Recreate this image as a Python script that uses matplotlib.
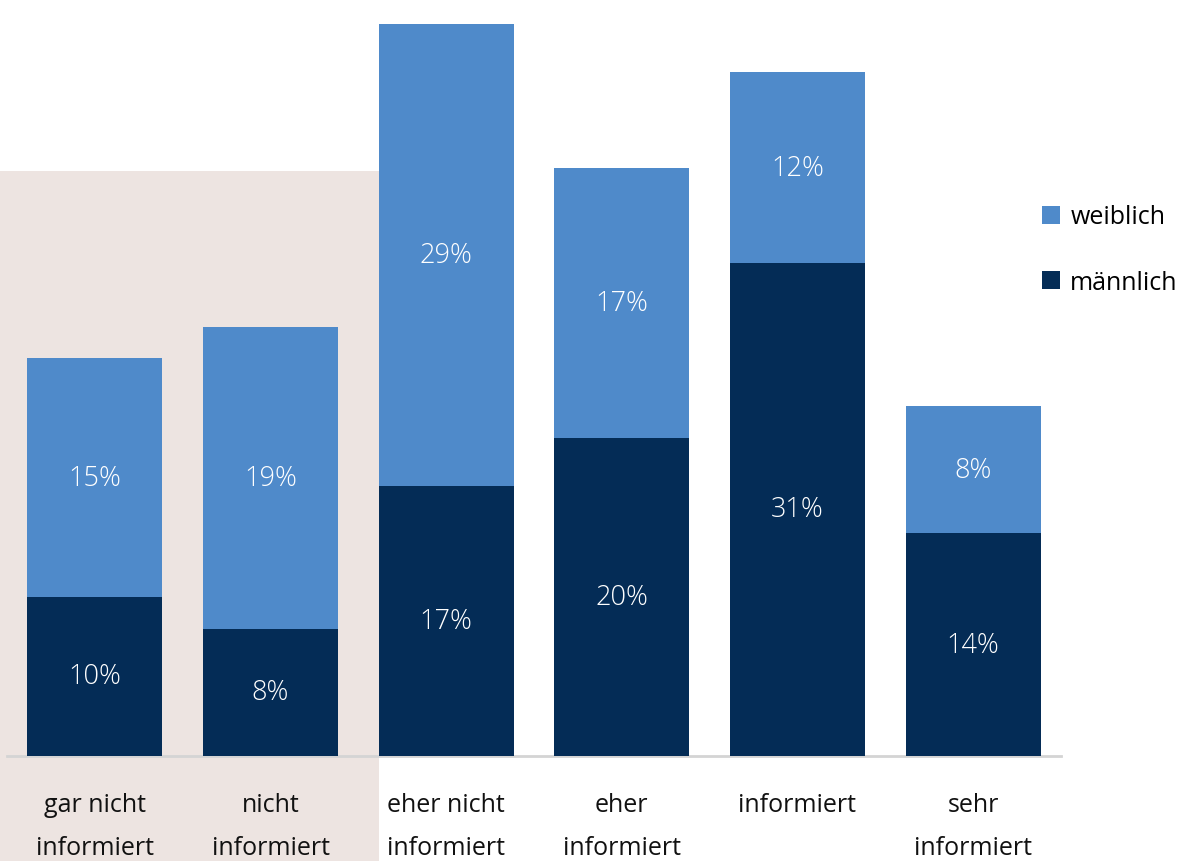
import numpy as np
import matplotlib
matplotlib.use("Agg")
import matplotlib.pyplot as plt
from matplotlib.patches import Patch, Rectangle
from matplotlib import transforms

# Informationsstand nach Geschlecht (Anteile in %)
kategorien = ["gar nicht\ninformiert", "nicht\ninformiert", "eher nicht\ninformiert",
              "eher\ninformiert", "informiert", "sehr\ninformiert"]
maennlich = [10, 8, 17, 20, 31, 14]
weiblich = [15, 19, 29, 17, 12, 8]

FARBE_W = "#4f8aca"
FARBE_M = "#042c56"
FARBE_HINTERGRUND = "#ede4e1"

plt.rcParams["font.family"] = ["Open Sans", "DejaVu Sans"]

fig = plt.figure(figsize=(11.88, 8.62), dpi=100)
ax = fig.add_axes([7 / 1188, 105 / 862, 1054 / 1188, 757 / 862])
ax.patch.set_visible(False)

x = np.arange(len(kategorien))
breite = 0.77

# hervorgehobener Bereich hinter den ersten beiden Kategorien
trans = transforms.blended_transform_factory(ax.transData, fig.transFigure)
ax.add_patch(Rectangle((-1, 0), 1 + 2 - breite / 2, 690 / 862, transform=trans,
                       facecolor=FARBE_HINTERGRUND, edgecolor="none",
                       clip_on=False, zorder=0))

ax.bar(x, maennlich, width=breite, color=FARBE_M, zorder=2)
ax.bar(x, weiblich, width=breite, bottom=maennlich, color=FARBE_W, zorder=2)

for i in range(len(x)):
    ax.text(x[i], maennlich[i] / 2, f"{maennlich[i]}%", ha="center", va="center",
            color="white", fontsize=19.5, fontweight="light", zorder=3)
    ax.text(x[i], maennlich[i] + weiblich[i] / 2, f"{weiblich[i]}%", ha="center",
            va="center", color="white", fontsize=19.5, fontweight="light", zorder=3)

ax.set_xlim(-0.5, 5.5)
ax.set_ylim(0, 47.6)
ax.set_xticks(x)
ax.set_xticklabels(kategorien, fontsize=18, linespacing=1.93, color="#111111")
ax.tick_params(axis="x", length=0, pad=26)
ax.set_yticks([])
for s in ["top", "right", "left"]:
    ax.spines[s].set_visible(False)
ax.spines["bottom"].set_color("#d4d4d4")
ax.spines["bottom"].set_linewidth(2)
ax.spines["bottom"].set_zorder(1)

handles = [Patch(facecolor=FARBE_W), Patch(facecolor=FARBE_M)]
fig.legend(handles, ["weiblich", "männlich"], loc="upper left",
           bbox_to_anchor=(1019 / 1188, 1 - 183 / 862), frameon=False,
           fontsize=18, handlelength=0.75, handleheight=0.75,
           handletextpad=0.4, labelspacing=1.6)

fig.savefig("out.png", dpi=100, facecolor="white")
